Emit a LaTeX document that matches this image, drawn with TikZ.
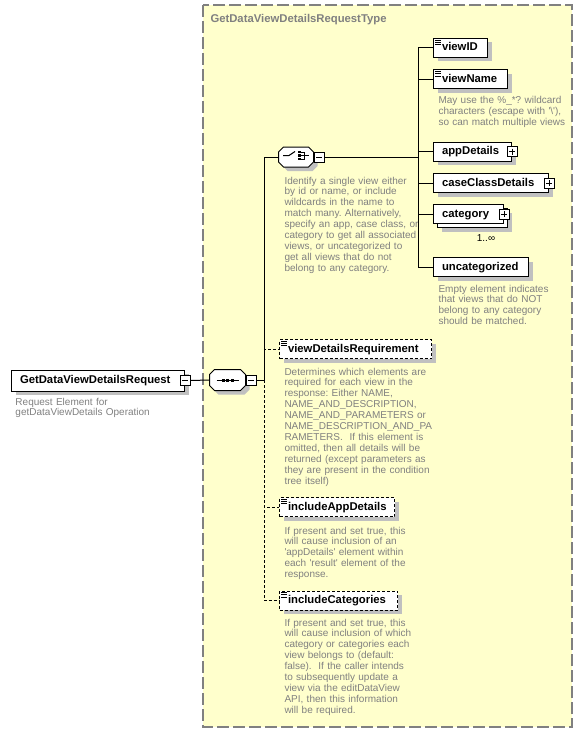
\documentclass[tikz,border=0pt]{standalone}
\usepackage{fontspec}
\setmainfont{Liberation Sans}
\usetikzlibrary{shadows}

\definecolor{bgyellow}{RGB}{255,255,204}
\definecolor{framegray}{RGB}{128,128,128}
\definecolor{descgray}{RGB}{128,128,128}
\definecolor{shadowgray}{RGB}{192,192,192}

\newcommand\namefont{\fontsize{11.3}{13}\selectfont\bfseries}
\newcommand\descfont{\fontsize{10}{10.9}\selectfont\frenchspacing}

% kleine Markierung fuer einfache Typen
\newcommand\simpletypemark[1]{%
  \foreach \dy in {2,4.3,6.6}
    \draw[line width=0.8pt] ([xshift=2pt,yshift=-\dy pt]#1.north west) -- ++(6pt,0pt);}

% Achteck eines Kompositors um einen Knoten
\newcommand\compositorshape[1]{%
  \draw[fill=white, elshadow] ([xshift=5pt]#1.north west) -- ([xshift=-5pt]#1.north east)
    -- ([yshift=-5pt]#1.north east) -- ([yshift=5pt]#1.south east)
    -- ([xshift=-5pt]#1.south east) -- ([xshift=5pt]#1.south west)
    -- ([yshift=5pt]#1.south west) -- ([yshift=-5pt]#1.north west) -- cycle;}

\tikzset{
  typeframe/.style={draw=framegray, fill=bgyellow, line width=1.5pt, dash pattern=on 12pt off 4pt},
  typetitle/.style={anchor=base west, inner sep=0pt, font=\namefont, text=framegray},
  elbox/.style={draw, fill=white, anchor=west, font=\namefont, minimum height=19pt,
    inner xsep=8.5pt, inner ysep=0pt, text height=8.5pt, text depth=2.5pt,
    text width=#1, align=left},
  elshadow/.style={drop shadow={shadow xshift=4pt, shadow yshift=-4pt, fill=shadowgray, opacity=1}},
  optbox/.style={dash pattern=on 3pt off 2pt},
  optline/.style={dash pattern=on 3pt off 2pt},
  compositor/.style={rectangle, inner sep=0pt},
  signbox/.style={draw, fill=white, minimum size=10pt, inner sep=0pt},
  minusbox/.style={signbox, path picture={
    \draw[line width=0.9pt] ([xshift=2pt]path picture bounding box.west) -- ([xshift=-2pt]path picture bounding box.east);}},
  plusbox/.style={signbox, path picture={
    \draw[line width=0.9pt] ([xshift=2pt]path picture bounding box.west) -- ([xshift=-2pt]path picture bounding box.east)
      ([yshift=-2pt]path picture bounding box.north) -- ([yshift=2pt]path picture bounding box.south);}},
  desc/.style={anchor=base west, inner sep=0pt, font=\descfont, text=descgray, align=left, text width=200pt},
  occtext/.style={inner sep=0pt, font=\fontsize{10}{11}\selectfont},
}

\begin{document}
\begin{tikzpicture}[x=1pt, y=-1pt, line width=1pt]
  \useasboundingbox (0,0) rectangle (582,733);

  % Typ-Rahmen
  \draw[typeframe] (203,5) rectangle (572,727);
  \node[typetitle] (title) at (210,23) {GetDataViewDetailsRequestType};

  % Wurzelelement
  \node[elbox=156pt, minimum height=21pt, elshadow] (root) at (11,380.5) {GetDataViewDetailsRequest};
  \node[minusbox] (rootm) at (root.east) {};
  \node[desc] (rootd) at (15,405) {Request Element for\\getDataViewDetails Operation};

  % Sequenz
  \node[compositor, minimum width=35pt, minimum height=20pt] (seq) at (227.5,380) {};
  \compositorshape{seq}
  \node[minusbox, anchor=west] (seqm) at (seq.east) {};
  \draw ([xshift=-11pt]seq.center) -- ([xshift=11pt]seq.center);
  \foreach \dx in {-4.5,0,4.5}
    \fill ([xshift=\dx pt]seq.center) +(-1.5pt,-1.5pt) rectangle +(1.5pt,1.5pt);

  % Auswahl
  \node[compositor, minimum width=34pt, minimum height=19pt] (choice) at (296,157) {};
  \compositorshape{choice}
  \node[minusbox, anchor=west] (choicem) at (choice.east) {};
  \begin{scope}[shift={(choice.center)}]
    \draw (-13,-1.5) -- (-7,-1.5) -- (-1,-5.5);
    \foreach \dy in {-5,-1.5,2}
      \fill (2,{\dy-1.2}) rectangle (4.6,{\dy+1.2});
    \draw (4.6,-5) -- (8,-5) -- (8,2) -- (4.6,2) (4.6,-1.5) -- (13,-1.5);
  \end{scope}
  \node[desc] (choiced) at (284,184) {Identify a single view either\\by id or name, or include\\wildcards in the name to\\match many. Alternatively,\\specify an app, case class, or\\category to get all associated\\views, or uncategorized to\\get all views that do not\\belong to any category.};

  % Elemente der Auswahl
  \node[elbox=37pt, elshadow] (viewid) at (433,48) {viewID};
  \simpletypemark{viewid}
  \node[elbox=57pt, elshadow] (viewname) at (433,79.5) {viewName};
  \simpletypemark{viewname}
  \node[desc] (viewnamed) at (438,104) {May use the \%\_*? wildcard\\characters (escape with \textquotesingle\textbackslash\textquotesingle),\\so can match multiple views};

  \node[elbox=61pt, elshadow] (appdetails) at (433,151.5) {appDetails};
  \node[plusbox] (appdetailsp) at (appdetails.east) {};

  \node[elbox=98pt, elshadow] (caseclass) at (433,183) {caseClassDetails};
  \node[plusbox] (caseclassp) at (caseclass.east) {};

  \node[elbox=53pt, elshadow] (categoryb) at (437,218) {\phantom{category}};
  \node[elbox=53pt] (category) at (433,214) {category};
  \node[plusbox] (categoryp) at (category.east) {};
  \node[occtext] (categoryocc) at (486,238) {1..∞};

  \node[elbox=78pt, elshadow] (uncat) at (433,267) {uncategorized};
  \node[desc] (uncatd) at (438,292) {Empty element indicates\\that views that do NOT\\belong to any category\\should be matched.};

  % optionale Elemente der Sequenz
  \node[elbox=135pt, optbox, elshadow] (vdreq) at (279,349) {viewDetailsRequirement};
  \simpletypemark{vdreq}
  \node[desc] (vdreqd) at (284,375) {Determines which elements are\\required for each view in the\\response: Either NAME,\\NAME\_AND\_DESCRIPTION,\\NAME\_AND\_PARAMETERS or\\NAME\_DESCRIPTION\_AND\_PA\\RAMETERS.~ If this element is\\omitted, then all details will be\\returned (except parameters as\\they are present in the condition\\tree itself)};

  \node[elbox=98pt, optbox, elshadow] (incapp) at (279,507) {includeAppDetails};
  \simpletypemark{incapp}
  \node[desc] (incappd) at (284,534) {If present and set true, this\\will cause inclusion of an\\\textquotesingle appDetails\textquotesingle{} element within\\each \textquotesingle result\textquotesingle{} element of the\\response.};

  \node[elbox=101pt, optbox, elshadow] (inccat) at (279,600.5) {includeCategories};
  \simpletypemark{inccat}
  \node[desc] (inccatd) at (284,626) {If present and set true, this\\will cause inclusion of which\\category or categories each\\view belongs to (default:\\false).~ If the caller intends\\to subsequently update a\\view via the editDataView\\API, then this information\\will be required.};

  % Verbindungen
  \coordinate (seqbus) at (264,380);
  \coordinate (choicebus) at (418,157);
  \draw (rootm.east) -- (seq.west);
  \draw (seqm.east) -- (seqbus);
  \draw (seqbus) |- (choice.west);
  \foreach \n in {vdreq, incapp, inccat}
    \draw[optline] (seqbus) |- (\n.west);
  \draw (choicem.east) -- (choicebus);
  \foreach \n in {viewid, viewname, appdetails, caseclass, category, uncat}
    \draw (choicebus) |- (\n.west);
\end{tikzpicture}
\end{document}
